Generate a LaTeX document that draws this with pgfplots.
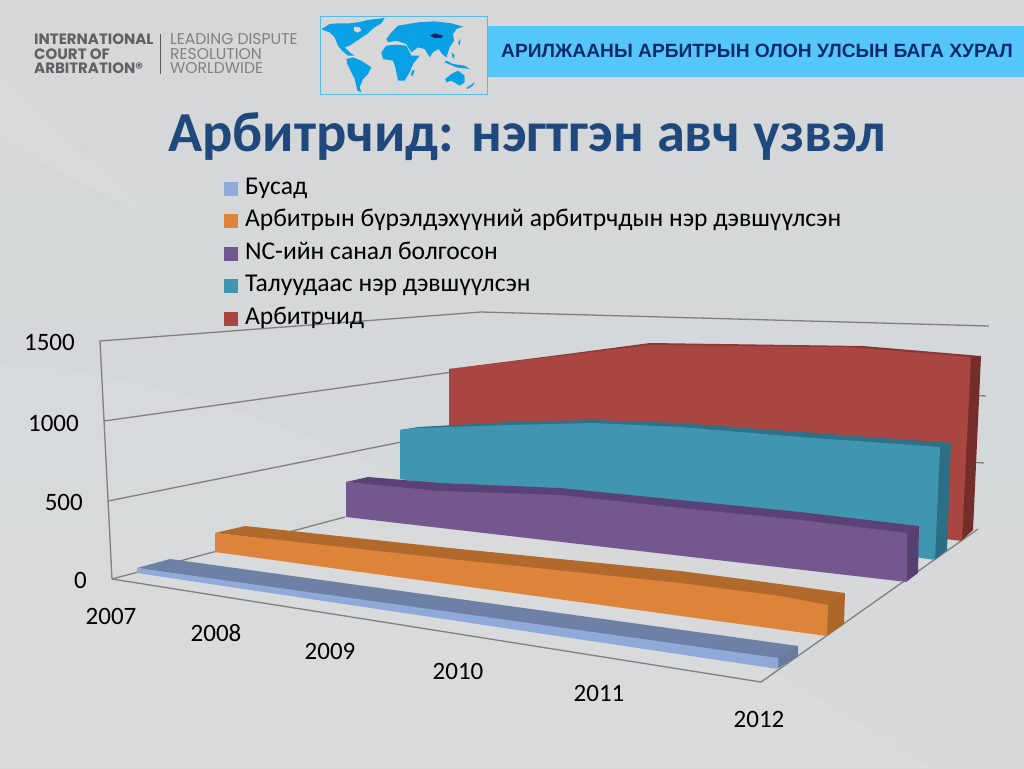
\documentclass[border=0pt]{standalone}
\usepackage{fontspec}
\usepackage{pgfplots}
\pgfplotsset{compat=1.18}
\setmainfont{Carlito}
\newfontfamily\hdr{Liberation Sans}
\newfontfamily\logo{Poppins}
\definecolor{redF}{HTML}{A94641}\definecolor{redT}{HTML}{8A3733}\definecolor{redS}{HTML}{752D2B}
\definecolor{teaF}{HTML}{4096B0}\definecolor{teaT}{HTML}{2F7288}\definecolor{teaS}{HTML}{2C6F85}
\definecolor{purF}{HTML}{75578F}\definecolor{purT}{HTML}{5B4276}\definecolor{purS}{HTML}{56406F}
\definecolor{oraF}{HTML}{DD843A}\definecolor{oraT}{HTML}{B16A2C}\definecolor{oraS}{HTML}{AD6729}
\definecolor{bluF}{HTML}{8FA9D8}\definecolor{bluT}{HTML}{6E80A5}\definecolor{bluS}{HTML}{6A7B9E}
\definecolor{gridc}{HTML}{808080}
\definecolor{mapc}{HTML}{0AA0E5}
\definecolor{navy}{HTML}{1F497D}
\definecolor{hdrbox}{HTML}{55C6FA}
\definecolor{hdrtxt}{HTML}{0B2A6B}
\definecolor{bgA}{HTML}{D7D7D7}\definecolor{bgB}{HTML}{D4D8DA}\definecolor{bgC}{HTML}{D8D8D8}
\newcommand\mapoly[2][mapc]{\addplot[fill=#1,draw=none,forget plot] table[x expr=318+\thisrowno{0}/3,y expr=14+\thisrowno{1}/3,header=false,row sep=\\] {#2} -- cycle;}
\begin{document}
\begin{tikzpicture}
\begin{axis}[
  scale only axis, width=1024pt, height=768pt,
  xmin=0, xmax=1024, ymin=0, ymax=768, y dir=reverse,
  hide axis, clip=true,
  reverse legend,
  legend style={at={(axis cs:224,176.5)},anchor=north west,draw=none,fill=none,
    font=\fontsize{25.6}{28}\selectfont,row sep=8.6pt,inner sep=0pt,outer sep=0pt,
    nodes={inner sep=0pt,text height=17.5pt,text depth=6.5pt}},
  legend cell align=left,
  legend image code/.code={\fill[#1] (0pt,-7pt) rectangle (14pt,7pt);\path (21pt,0pt);},
]
% background
\fill[top color=bgA,bottom color=bgC,middle color=bgB]
  (axis cs:0,0) rectangle (axis cs:1024,768);
\fill[white,opacity=.06] (axis cs:0,75) -- (axis cs:170,230) -- (axis cs:0,140) -- cycle;
\fill[white,opacity=.07] (axis cs:0,365) .. controls (axis cs:250,370) and (axis cs:600,560) .. (axis cs:930,768) -- (axis cs:0,768) -- cycle;
% header
\addplot[fill=hdrbox,draw=none,forget plot] coordinates {(488,26)(1024,26)(1024,77)(488,77)} -- cycle;
\addplot[fill=bgA,draw=mapc!70!white,line width=1pt,forget plot] coordinates {(320.5,16.5)(487,16.5)(487,94)(320.5,94)} -- cycle;
% map
\mapoly{10 45\\35 30\\60 28\\95 28\\120 25\\150 18\\200 12\\190 28\\170 40\\160 48\\150 58\\135 68\\120 78\\105 88\\95 95\\80 100\\95 115\\110 125\\90 125\\72 110\\60 95\\50 70\\35 55\\20 50\\}
\mapoly[bgA]{108 38\\125 40\\130 50\\118 56\\108 50\\}
\mapoly{85 135\\105 130\\130 140\\160 160\\150 180\\135 195\\125 220\\130 235\\118 230\\110 195\\100 175\\88 150\\}
\mapoly{190 115\\205 95\\235 92\\265 95\\280 125\\305 125\\285 150\\275 175\\260 200\\240 200\\232 160\\225 140\\195 135\\}
\mapoly{282 170\\290 168\\285 185\\278 185\\}
\mapoly{205 75\\225 50\\240 35\\300 25\\350 22\\400 28\\435 38\\415 45\\405 60\\408 80\\395 100\\385 130\\372 120\\362 105\\345 115\\335 130\\320 105\\300 100\\280 115\\265 90\\235 80\\210 85\\}
\mapoly{380 145\\415 160\\455 165\\440 155\\405 150\\385 140\\}
\mapoly{420 85\\428 75\\425 95\\}
\mapoly{400 115\\410 125\\405 135\\}
\mapoly{382 195\\400 180\\420 170\\440 185\\440 205\\425 215\\400 200\\385 205\\}
\mapoly{445 222\\470 205\\465 215\\448 225\\}
\mapoly{215 60\\222 55\\222 68\\}
\mapoly[hdrtxt]{335 65\\350 58\\375 65\\370 72\\350 72\\}
% grid and floor lines
\addplot[gridc,line width=1.3pt,forget plot] coordinates {(112,579)(100,341)(481,312)(989,326)};
\addplot[gridc,line width=1.3pt,forget plot] coordinates {(104,421)(481,368)(986,396)};
\addplot[gridc,line width=1.3pt,forget plot] coordinates {(108,501)(481,426)(984,463)};
\addplot[gridc,line width=1.3pt,forget plot] coordinates {(112,579)(345,517)};
\addplot[gridc,line width=1.3pt,forget plot] coordinates {(112,579)(761,682)(978,529)};
% red
\addplot[fill=redT,draw=none,forget plot] coordinates {(449,369)(567,354)(650,343)(863,346)(981,356)(971,360)(863,350)(650,348)} -- cycle;
\addplot[fill=redS,draw=none,forget plot] coordinates {(970,357)(981,356)(973,530)(961,541)} -- cycle;
\addplot[fill=redF,draw=none] coordinates {(449,369)(567,355)(650,345)(847,347)(971,357)(962,541)(449,480)} -- cycle;
\addlegendentry{Арбитрчид}
% teal
\addplot[fill=teaT,draw=none,forget plot] coordinates {(400,430)(418,427)(510,422)(593,420)(680,423)(951,443)(940,450)(680,430)(593,426)} -- cycle;
\addplot[fill=teaS,draw=none,forget plot] coordinates {(939,447)(951,443)(947,550)(934,560)} -- cycle;
\addplot[fill=teaF,draw=none] coordinates {(400,430)(418,428)(510,425)(593,423)(680,427)(800,437)(940,447)(935,560)(400,479)} -- cycle;
\addlegendentry{Талуудаас нэр дэвшүүлсэн}
% purple
\addplot[fill=purT,draw=none,forget plot] coordinates {(346,482)(368,477)(440,483)(560,488)(680,500)(800,512)(919,526)(907,536)(800,523)(680,510)(560,497)(440,493)} -- cycle;
\addplot[fill=purS,draw=none,forget plot] coordinates {(906,533)(919,526)(918,573)(906,582)} -- cycle;
\addplot[fill=purF,draw=none] coordinates {(346,482)(440,491)(560,495)(680,508)(800,520)(907,533)(907,582)(346,517)} -- cycle;
\addlegendentry{NC-ийн санал болгосон}
% orange
\addplot[fill=oraT,draw=none,forget plot] coordinates {(215,533)(245,526)(450,548)(680,571)(750,580)(845,593)(828,607)(780,598)(680,585)(450,560)} -- cycle;
\addplot[fill=oraS,draw=none,forget plot] coordinates {(827,605)(845,593)(844,624)(826,636)} -- cycle;
\addplot[fill=oraF,draw=none] coordinates {(215,533)(450,559)(680,583)(780,596)(828,605)(827,636)(215,552)} -- cycle;
\addlegendentry{Арбитрын бүрэлдэхүүний арбитрчдын нэр дэвшүүлсэн}
% blue
\addplot[fill=bluT,draw=none,forget plot] coordinates {(137,568)(170,559)(798,646)(778,660)} -- cycle;
\addplot[fill=bluS,draw=none,forget plot] coordinates {(777,658)(798,646)(798,656)(777,669)} -- cycle;
\addplot[fill=bluF,draw=none] coordinates {(137,568)(778,658)(778,669)(137,573)} -- cycle;
\addlegendentry{Бусад}
% titles and labels
\node[font=\hdr\bfseries\fontsize{19.2}{22}\selectfont,text=hdrtxt] at (axis cs:757,51) {АРИЛЖААНЫ АРБИТРЫН ОЛОН УЛСЫН БАГА ХУРАЛ};
\node[font=\bfseries\fontsize{56.5}{60}\selectfont,text=navy] at (axis cs:527,136.5) {Арбитрчид: нэгтгэн авч үзвэл};
\node[font=\logo\bfseries\fontsize{15}{14.5}\selectfont,text=black!62,align=left,anchor=west,inner sep=0pt] at (axis cs:34,54) {INTERNATIONAL\\COURT OF\\ARBITRATION®};
\node[font=\logo\fontsize{15.6}{14.5}\selectfont,text=black!50,align=left,anchor=west,inner sep=0pt] at (axis cs:170,54) {LEADING DISPUTE\\RESOLUTION\\WORLDWIDE};
\addplot[black!65,line width=1.2pt,forget plot] coordinates {(160.5,34)(160.5,74)};
\foreach \v/\xx/\yy in {1500/75/342,1000/79/423,500/83/502,0/87/580}
  {\edef\tmp{\noexpand\node[font=\noexpand\fontsize{25}{28}\noexpand\selectfont,anchor=east,inner sep=0pt] at (axis cs:\xx,\yy) {\v};}\tmp}
\foreach \v/\xx/\yy in {2007/111/616,2008/216/633,2009/330/651,2010/458/671,2011/599/693,2012/759/719}
  {\edef\tmp{\noexpand\node[font=\noexpand\fontsize{25}{28}\noexpand\selectfont,inner sep=0pt] at (axis cs:\xx,\yy) {\v};}\tmp}
\end{axis}
\end{tikzpicture}
\end{document}
